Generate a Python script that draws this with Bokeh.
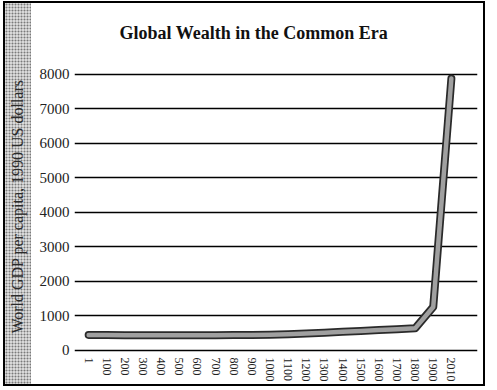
from bokeh.plotting import figure
from bokeh.models import Range1d, FixedTicker
from bokeh.embed import file_html
from bokeh.resources import INLINE

years = ["1", "100", "200", "300", "400", "500", "600", "700", "800", "900",
         "1000", "1100", "1200", "1300", "1400", "1500", "1600", "1700",
         "1800", "1900", "2010"]
gdp = [450, 445, 440, 440, 440, 440, 440, 440, 445, 450,
       455, 470, 490, 515, 540, 565, 590, 615, 640, 1260, 7880]
y_ticks = [0, 1000, 2000, 3000, 4000, 5000, 6000, 7000, 8000]

idx = list(range(len(years)))

W, H = 478, 381
bg = ("linear-gradient(to right, rgba(255,255,255,0) 0px, rgba(255,255,255,0) 26px, "
      "#ffffff 26px, #ffffff 100%), "
      "radial-gradient(circle, #7a7a7a 0.7px, rgba(0,0,0,0) 1.2px) 0 0 / 3px 3px, "
      "#d9d9d9")
p = figure(width=W, height=H, output_backend="svg", toolbar_location=None,
           x_range=Range1d(-0.78, 21.44), y_range=Range1d(-60, 8400),
           min_border_left=67, min_border_right=10, min_border_top=57,
           min_border_bottom=36,
           styles={"border": "2px solid black", "background": bg,
                   "box-sizing": "content-box",
                   "margin-left": "3px", "margin-top": "1px"})

p.title.text = "Global Wealth in the Common Era"
p.title.align = "left"
p.title.offset = 45
p.title.text_font = "Liberation Serif"
p.title.text_font_style = "bold"
p.title.text_font_size = "18px"
p.title.text_color = "#111111"
p.title.standoff = 35

p.outline_line_color = None
p.background_fill_color = "white"
p.border_fill_color = None

# axes
p.xaxis.ticker = FixedTicker(ticks=idx)
p.xaxis.major_label_overrides = {i: y for i, y in zip(idx, years)}
p.xaxis.major_label_orientation = "vertical"
p.xaxis.major_label_text_font = "Liberation Serif"
p.xaxis.major_label_text_font_size = "12px"
p.xaxis.major_label_text_color = "#222222"
p.xaxis.major_label_standoff = 5
p.xaxis.major_tick_out = 0
p.xaxis.major_tick_in = 0
p.xaxis.axis_line_color = None
p.xaxis.major_tick_line_color = None
p.xaxis.minor_tick_line_color = None

p.yaxis.ticker = FixedTicker(ticks=y_ticks)
p.yaxis.major_label_text_font = "Liberation Serif"
p.yaxis.major_label_text_font_size = "15px"
p.yaxis.major_label_text_color = "#222222"
p.yaxis.major_label_standoff = 5
p.yaxis.major_tick_out = 0
p.yaxis.major_tick_in = 0
p.yaxis.axis_line_color = None
p.yaxis.major_tick_line_color = None
p.yaxis.minor_tick_line_color = None
p.yaxis.axis_label = "World GDP per capita, 1990 US dollars"
p.yaxis.axis_label_text_font = "Liberation Serif"
p.yaxis.axis_label_text_font_style = "normal"
p.yaxis.axis_label_text_font_size = "16px"
p.yaxis.axis_label_text_color = "#2a2a2a"
p.yaxis.axis_label_standoff = 11

p.xgrid.grid_line_color = None
p.ygrid.grid_line_color = "black"
p.ygrid.grid_line_width = 1.4
p.ygrid.grid_line_alpha = 1

p.line(idx, gdp, line_color="#2a2a2a", line_width=8,
       line_join="round", line_cap="round")
p.line(idx, gdp, line_color="#a0a0a0", line_width=4.5,
       line_join="round", line_cap="round")

open("out.html", "w").write(file_html(p, INLINE))
